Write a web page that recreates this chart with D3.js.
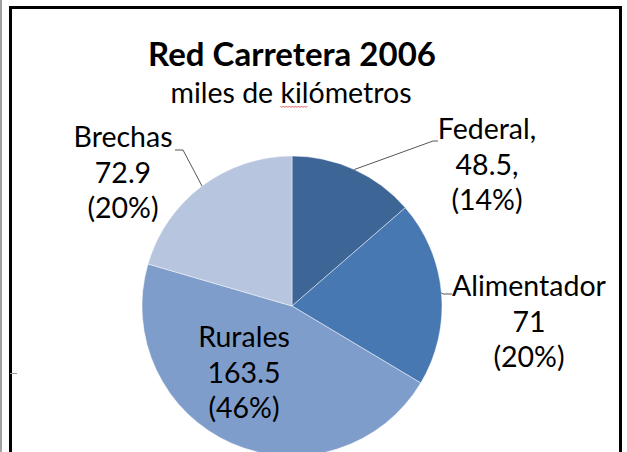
<!DOCTYPE html>
<html>
<head>
<meta charset="utf-8">
<script src="https://cdn.jsdelivr.net/npm/d3@7"></script>
<style>
  body { margin: 0; background: #fff; }
  svg { display: block; }
  text { font-family: Lato, "Open Sans", sans-serif; fill: #000; }
</style>
</head>
<body>
<svg id="pie_chart"></svg>
<script>
let title = "Red Carretera 2006"
let subtitle = "miles de kilómetros"
let categories = ["Federal", "Alimentador", "Rurales", "Brechas"]
let values = [48.5, 71, 163.5, 72.9]
let separators = [",", "", "", ""]
let colors = ["#3d6596", "#4878b1", "#7f9dca", "#b7c5df"]

let width = 627
let height = 452
let center = {x: 292, y: 306}
let radius = 150
let lineGap = 35.5
let labelSize = 28.5

// label blocks: centre x and first baseline, plus leader elbow
let labelPos = [
    {x: 487, y: 139, elbow: [433, 141], end: [438, 141]},
    {x: 529, y: 296, elbow: [443, 294], end: [452, 294]},
    {x: 244, y: 347, elbow: null, end: null},
    {x: 123, y: 147, elbow: [183, 150], end: [175, 150]}
]

let data = categories.map(function(c, i) {
    return {name: c, value: values[i], sep: separators[i], color: colors[i], pos: labelPos[i]}
})

let total = d3.sum(values)
let pct = d3.format(".0%")

let svg = d3.select("#pie_chart")
    .attr("width", width)
    .attr("height", height)

// frame
svg.append("line")
    .attr("x1", 1).attr("x2", 1)
    .attr("y1", 0).attr("y2", height)
    .attr("stroke", "#a0a0a0").attr("stroke-width", 2)

svg.append("rect")
    .attr("x", 10.5).attr("y", 7.5)
    .attr("width", 610).attr("height", 480)
    .attr("fill", "#fff")
    .attr("stroke", "#000").attr("stroke-width", 3)

svg.append("line")
    .attr("x1", 10).attr("x2", 17)
    .attr("y1", 373.5).attr("y2", 373.5)
    .attr("stroke", "#9a9a9a").attr("stroke-width", 1)

// titles
svg.append("text")
    .text(title)
    .attr("x", center.x).attr("y", 66)
    .attr("text-anchor", "middle")
    .attr("font-weight", "bold")
    .attr("font-size", 33)

let sub = svg.append("text")
    .text(subtitle)
    .attr("x", center.x - 1).attr("y", 103)
    .attr("text-anchor", "middle")
    .attr("font-size", 28.5)

// spell-check squiggle under "kil"
let subNode = sub.node()
let sx0 = subNode.getStartPositionOfChar(9).x
let sx1 = subNode.getEndPositionOfChar(11).x
let squiggle = d3.path()
squiggle.moveTo(sx0, 106)
for (let x = sx0 + 1.5, k = 1; x <= sx1; x += 1.5, k++) {
    squiggle.lineTo(x, k % 2 ? 107.5 : 106)
}
svg.append("path")
    .attr("d", squiggle.toString())
    .attr("fill", "none")
    .attr("stroke", "#e03030")
    .attr("stroke-width", 0.8)

// pie
let pie = d3.pie().sort(null).value(d => d.value)
let arc = d3.arc().innerRadius(0).outerRadius(radius)
let arcs = pie(data)

let plot = svg.append("g")
    .attr("id", "pie_plot")
    .attr("transform", "translate(" + center.x + "," + center.y + ")")

plot.selectAll("path.slice")
    .data(arcs)
    .enter()
    .append("path")
    .attr("class", "slice")
    .attr("d", arc)
    .attr("fill", d => d.data.color)
    .attr("stroke", "rgba(255,255,255,0.45)")
    .attr("stroke-width", 1)

// leader lines from arc midpoint
arcs.forEach(function(a) {
    let p = a.data.pos
    if (!p.elbow) return
    let mid = (a.startAngle + a.endAngle) / 2
    let sx = center.x + Math.sin(mid) * radius
    let sy = center.y - Math.cos(mid) * radius
    svg.append("polyline")
        .attr("points", [[sx, sy], p.elbow, p.end].map(q => q.join(",")).join(" "))
        .attr("fill", "none")
        .attr("stroke", "#555")
        .attr("stroke-width", 1)
})

// labels
arcs.forEach(function(a) {
    let d = a.data
    let lines = [d.name + d.sep, d.value + d.sep, "(" + pct(d.value / total) + ")"]
    let t = svg.append("text")
        .attr("text-anchor", "middle")
        .attr("font-size", labelSize)
    lines.forEach(function(l, i) {
        t.append("tspan")
            .attr("x", d.pos.x)
            .attr("y", d.pos.y + i * lineGap)
            .text(l)
    })
})
</script>
</body>
</html>
